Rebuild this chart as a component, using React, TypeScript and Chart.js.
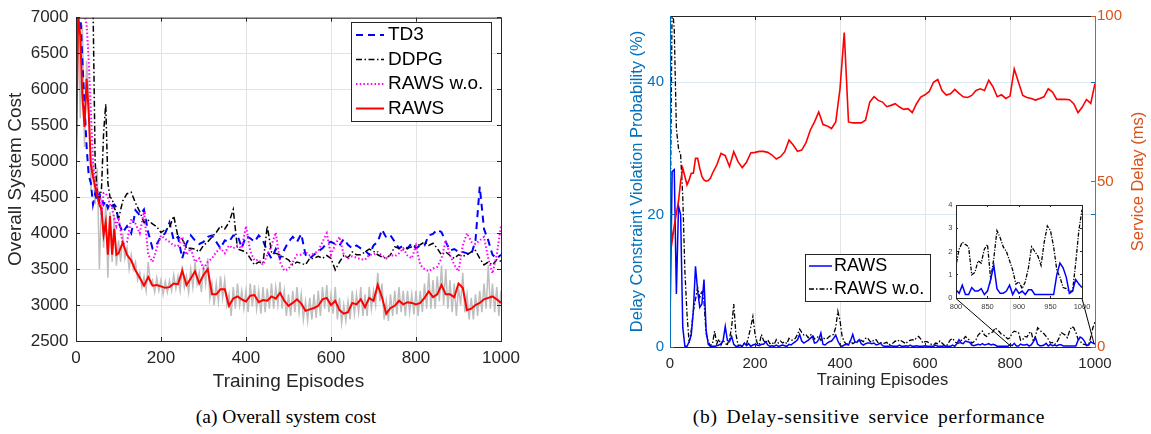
import React, { useEffect, useRef } from "react";
import { Chart, registerables } from "chart.js";

Chart.register(...registerables);

// ---------------- Data ----------------
// x grids (episodes). Mixed grid: every 5 episodes up to 100, then every 10.
const EPISODES_MIXED = [
  ...Array.from({ length: 21 }, (_, i) => i * 5),
  ...Array.from({ length: 90 }, (_, i) => 110 + i * 10),
];
const EPISODES_STEP5 = Array.from({ length: 201 }, (_, i) => i * 5);

const EPISODE_TICKS = [0, 200, 400, 600, 800, 1000];
const COST_TICKS = [2500, 3000, 3500, 4000, 4500, 5000, 5500, 6000, 6500, 7000];
const VIOL_TICKS = [0, 20, 40];
const DELAY_TICKS = [0, 50, 100];
const INSET_X_TICKS = [800, 850, 900, 950, 1000];
const INSET_Y_TICKS = [0, 1, 2, 3, 4];

const LEFT_LEGEND_LABELS = ["TD3", "DDPG", "RAWS w.o.", "RAWS"];
const RIGHT_LEGEND_LABELS = ["RAWS", "RAWS w.o."];

// (a) Overall system cost, on EPISODES_MIXED
const TD3_COST = [
  7600, 7400, 7100, 6400, 5800, 5200, 4800, 4700, 4400, 4550, 4450, 4550, 4500, 4400, 4450, 4350, 4420, 4380, 4400, 4360, 4150,
  4010, 4100, 4000, 4320, 4250, 4330, 4010, 3790, 3850, 3950,
  4000, 4150, 3900, 3950, 3650, 3860, 3970, 3900, 3850, 3880,
  3950, 3970, 3880, 3790, 3900, 3880, 3970, 3970, 3800, 3960,
  3930, 3880, 3970, 3900, 3750, 3650, 3780, 3650, 3770, 3880,
  3950, 3880, 3990, 3700, 3650, 3700, 3750, 3790, 3860, 3880,
  3850, 3830, 3920, 3840, 3790, 3830, 3790, 3760, 3700, 3830,
  3880, 4050, 3940, 3970, 3880, 3790, 3830, 3790, 3860, 3790,
  3830, 3830, 3970, 3990, 4050, 4015, 3880, 3760, 3780, 3740,
  3740, 3720, 3700, 3900, 4650, 4060, 3900, 3700, 3650, 3700,
];
const DDPG_COST = [
  7600, 7600, 7600, 7600, 7600, 7600, 7500, 7300, 7200, 5000, 4550, 4450, 4620, 5400, 5800, 4700, 4500, 4480, 4350, 4300, 4200,
  4450, 4550, 4570, 4420, 4300, 4150, 4180, 4130, 4090, 4010,
  4050, 4080, 4240, 3950, 3920, 3790, 3790, 3780, 3740, 3830,
  3880, 3950, 4010, 4100, 4060, 4150, 4330, 3780, 3760, 3740,
  3650, 3560, 3600, 3580, 4100, 3740, 3720, 3700, 3660, 3630,
  3560, 3600, 3580, 3560, 3650, 3650, 3680, 3650, 3690, 3650,
  3490, 3600, 3690, 3660, 3740, 3700, 3700, 3740, 3780, 3750,
  3700, 3670, 3650, 3700, 3810, 3790, 3770, 3790, 3810, 3830,
  3840, 3880, 3830, 3860, 3790, 3700, 3740, 3690, 3650, 3700,
  3680, 3700, 3740, 3760, 3650, 3560, 3600, 3560, 3630, 3610,
];
const RAWS_WO_COST = [
  7600, 7500, 7400, 7200, 7050, 6900, 6400, 5700, 5000, 4700, 4600, 4500, 4260, 4560, 4550, 4500, 4400, 4350, 4200, 4100, 4220,
  3850, 3880, 4200, 4130, 4000, 4300, 3700, 3600, 3790, 3970,
  3920, 3880, 3830, 3820, 3950, 3700, 3790, 3600, 3650, 3510,
  3600, 3650, 3740, 3790, 3720, 3830, 3790, 3830, 3790, 4100,
  3750, 3620, 3630, 3560, 3700, 3830, 4010, 3600, 3480, 3500,
  3600, 3700, 3700, 3740, 3690, 3720, 3750, 3880, 4000, 3700,
  3840, 3950, 3700, 3650, 3680, 3660, 3640, 3630, 3700, 3700,
  3740, 3690, 3650, 3700, 3680, 3720, 3790, 3690, 3650, 3830,
  3560, 3500, 3470, 3510, 3530, 3650, 3900, 3700, 3560, 3470,
  3830, 4000, 3880, 3850, 3900, 3950, 3650, 3440, 3700, 4100,
];
const RAWS_COST = [
  4930, 7050, 6750, 5900, 5480, 6150, 5660, 4950, 4790, 4650, 4520, 4400, 4330, 3980, 4150, 3700, 4240, 3700, 4060, 3700, 3720,
  3870, 3700, 3620, 3480, 3380, 3270, 3390, 3270, 3280, 3260,
  3240, 3250, 3300, 3290, 3480, 3280, 3370, 3470, 3300, 3420,
  3500, 3150, 3150, 3220, 3220, 2990, 3090, 3120, 3080, 3050,
  3130, 3140, 3040, 3070, 3060, 3120, 3090, 3170, 3060, 2990,
  3030, 3080, 3020, 2920, 2940, 2960, 2990, 3080, 3100, 3000,
  3060, 2930, 2880, 2900, 3030, 3010, 3080, 2970, 3100, 3060,
  3280, 3110, 2880, 2960, 2990, 3060, 3010, 3040, 3030, 3010,
  3030, 3100, 3190, 3110, 3150, 3280, 3150, 3150, 3110, 3300,
  3240, 2930, 2950, 3000, 3030, 3080, 3100, 3120, 3080, 3030,
];
// raw (unsmoothed) RAWS cost, on EPISODES_STEP5
const RAWS_COST_RAW = [
  5000, 7200, 5600, 6900, 5200, 6400, 5900, 4600, 5000, 4400,
  4900, 3500, 4500, 3800, 4400, 3380, 4300, 3600, 4250, 3550,
  3900, 3600, 4000, 3650, 3800, 3500, 3700, 3500, 3600, 3350,
  3450, 3250, 3400, 3200, 3600, 3300, 3350, 3180, 3380, 3200,
  3350, 3150, 3330, 3180, 3340, 3200, 3420, 3230, 3400, 3200,
  3550, 3250, 3400, 3180, 3500, 3250, 3600, 3300, 3450, 3180,
  3550, 3300, 3650, 3100, 3300, 3000, 3300, 3050, 3400, 3100,
  3350, 3000, 3150, 2850, 3250, 2950, 3300, 3000, 3200, 2950,
  3200, 2900, 3300, 2980, 3280, 2950, 3200, 2880, 3250, 2900,
  3230, 2950, 3300, 2950, 3250, 3000, 3320, 2950, 3200, 2850,
  3150, 2850, 3200, 2900, 3250, 2900, 3150, 2800, 3050, 2780,
  3100, 2800, 3150, 2820, 3200, 2850, 3250, 2950, 3280, 2900,
  3150, 2880, 3250, 2800, 3100, 2750, 3000, 2780, 3050, 2800,
  3200, 2880, 3150, 2900, 3250, 2850, 3150, 2850, 3250, 2950,
  3200, 3000, 3450, 3050, 3300, 2800, 3050, 2780, 3150, 2850,
  3200, 2870, 3250, 2900, 3200, 2850, 3200, 2900, 3150, 2870,
  3200, 2850, 3200, 2900, 3300, 2950, 3450, 2950, 3350, 2950,
  3400, 3050, 3550, 3000, 3500, 2950, 3350, 2900, 3300, 2850,
  3250, 3000, 3450, 2900, 3150, 2800, 3100, 2800, 3150, 2850,
  3200, 2900, 3300, 2950, 3550, 2950, 3300, 2900, 3250, 2850,
  3200,
];

// (b) service delay (ms), on EPISODES_MIXED
const SERVICE_DELAY = [
  41.5, 32, 36.5, 40.5, 44, 50, 54, 51.5, 49, 50.5, 52.5, 52.5, 57, 57, 54, 51.5, 50.5, 50.1, 50.3, 51, 52.5,
  55, 58.5, 57.8, 54.5, 59, 56, 54.2, 55.8, 58.6, 58.8,
  59.1, 59.1, 58.8, 58, 56.8, 57.5, 59, 62.5, 61, 59.1,
  59.5, 61.7, 65.5, 68, 71, 67.2, 66.8, 66, 68, 78,
  95, 68, 67.7, 67.7, 67.7, 68.5, 74, 75.6, 74.5, 74,
  72.6, 73, 73.5, 72.5, 71.8, 72, 70.8, 73.5, 75.5, 76.2,
  77.2, 80, 80.8, 77.5, 76.1, 76.5, 77.8, 76.6, 75.6, 75.4,
  76, 77.5, 78, 77.5, 80.6, 78.6, 75.6, 76.2, 75.1, 75.8,
  84, 80, 76, 75.4, 75.1, 74.6, 75.1, 75.6, 78, 77,
  74.8, 74.8, 74.8, 74.7, 73.5, 70.8, 72.5, 74.8, 73.6, 79.6,
];
// (b) delay constraint violation probability (%), on EPISODES_STEP5
const RAWS_VIOLATION = [
  3.0, 26.5, 26.8, 8, 21.3, 20, 3, 0.1, 0.1, 0.8,
  1.8, 5.5, 12.2, 8.5, 6.0, 6.5, 10.2, 2.5, 0.4, 0.1,
  0.1, 0.1, 0.2, 0.3, 0.5, 1.0, 3.1, 1.0, 0.8, 1.6,
  0.4, 0.1, 0.1, 0.3, 0.1, 0.6, 0.2, 0.5, 0.1, 0.3,
  0.4, 0.3, 0.2, 0.4, 0.4, 0.8, 0.3, 0.1, 0.2, 0.1,
  0.3, 0.1, 0.2, 0.3, 0.2, 0.1, 0.4, 0.3, 0.6, 0.8,
  1.1, 1.9, 0.9, 0.6, 0.8, 1.0, 1.3, 1.6, 0.6, 0.7,
  1.1, 2.1, 0.4, 0.3, 0.6, 0.8, 0.9, 1.3, 1.8, 0.9,
  0.3, 0.1, 0.3, 0.4, 0.3, 1.0, 1.9, 0.8, 0.7, 1.1,
  0.5, 0.3, 0.5, 0.6, 0.6, 0.5, 0.6, 0.3, 0.4, 0.6,
  0.2, 0.1, 0.1, 0.1, 0.2, 0.1, 0.1, 0.1, 0.3, 0.1,
  0.1, 0.2, 0.1, 0.3, 0.1, 0.1, 0.2, 0.1, 0.1, 0.1,
  0.2, 0.1, 0.1, 0.1, 0.1, 0.3, 0.1, 0.1, 0.1, 0.2,
  0.1, 0.1, 0.1, 0.3, 0.1, 0.5, 1.1, 0.6, 0.5, 0.9,
  0.8, 0.7, 0.3, 0.2, 0.3, 0.4, 0.3, 0.5, 0.3, 0.4,
  0.5, 0.3, 0.4, 0.3, 0.1, 0.1, 0.1, 0.1, 0.1, 0.1,
  0.35, 0.2, 0.55, 0.15, 0.15, 0.45, 0.3, 0.3, 0.4, 0.15,
  0.3, 0.8, 1.4, 0.4, 0.2, 0.2, 0.3, 0.55, 0.15, 0.4,
  0.2, 0.3, 0.15, 0.35, 0.35, 0.15, 0.15, 0.15, 0.15, 0.15,
  0.15, 0.15, 1.0, 1.5, 1.3, 0.9, 0.2, 0.3, 0.8, 0.6,
  0.45,
];
const RAWS_WO_VIOLATION = [
  14.7, 52, 48, 33, 30, 29, 22.8, 11.5, 5, 0.6,
  2.5, 5.5, 7.2, 9.0, 7.5, 8.5, 6.8, 2.0, 0.8, 0.2,
  0.5, 2.4, 0.5, 1.2, 0.3, 1.0, 0.5, 0.4, 1.2, 3.0,
  6.5, 2.0, 0.3, 0.2, 0.1, 0.6, 0.4, 1.6, 3.0, 4.6,
  2.0, 0.6, 0.3, 1.9, 1.0, 0.6, 1.1, 0.5, 0.7, 0.4,
  1.1, 0.6, 0.9, 0.6, 0.8, 0.5, 1.3, 1.0, 1.1, 1.3,
  1.9, 2.7, 2.2, 1.8, 1.9, 1.4, 1.8, 1.9, 1.2, 1.4,
  1.6, 1.0, 1.4, 1.2, 1.3, 1.6, 1.8, 1.9, 3.0, 5.4,
  4.0, 1.6, 0.8, 0.4, 0.6, 0.9, 0.5, 0.7, 0.8, 1.1,
  1.0, 0.8, 1.3, 1.4, 0.9, 0.7, 1.1, 1.1, 0.6, 0.7,
  0.5, 0.6, 0.7, 0.3, 0.5, 0.6, 0.9, 0.8, 1.1, 0.9,
  0.7, 0.5, 0.9, 1.0, 1.1, 1.0, 1.4, 1.6, 1.2, 0.6,
  0.8, 0.8, 0.6, 0.4, 0.3, 0.6, 0.5, 0.9, 0.6, 0.3,
  0.1, 0.6, 1.1, 1.3, 0.8, 0.6, 0.6, 1.0, 1.1, 1.6,
  1.3, 1.0, 0.6, 0.8, 1.1, 1.8, 2.1, 2.4, 1.8, 1.6,
  2.0, 2.1, 2.3, 2.9, 2.6, 2.3, 1.9, 1.8, 1.5, 1.2,
  1.4, 2.1, 2.4, 2.3, 2.2, 1.0, 1.1, 1.6, 1.5, 2.1,
  2.3, 0.8, 1.7, 2.9, 2.6, 2.2, 2.0, 1.6, 1.2, 0.6,
  0.7, 0.4, 0.7, 1.3, 2.2, 2.0, 1.8, 1.4, 2.4, 3.1,
  2.9, 2.2, 1.2, 0.9, 0.45, 0.4, 0.3, 0.3, 1.5, 2.9,
  3.8,
];

// ---------------- Styling ----------------
const SANS = "'Liberation Sans', Arial, Helvetica, sans-serif";
const SERIF = "'Liberation Serif', 'Times New Roman', serif";
const AXIS_DARK = "#262626";
const GRID_GRAY = "#e3e3e3";
const GRID_BLUE = "#d9e8f3";
const LEFT_AXIS_BLUE = "#0072BD";
const RIGHT_AXIS_ORANGE = "#D95319";
const TICK_LEN = 4;

type Pt = { x: number; y: number };
const pts = (xs: number[], ys: number[]): Pt[] => ys.map((y, i) => ({ x: xs[i], y }));
const fixedTicks = (values: number[]) => (scale: any) => {
  scale.ticks = values.map((v) => ({ value: v }));
};
const plainLabel = (v: any) => String(v);

type LegendRow = { label: string; color: string; dash: number[]; width: number; y: number };
function drawLegend(
  ctx: CanvasRenderingContext2D,
  box: { x0: number; y0: number; x1: number; y1: number },
  rows: LegendRow[],
  sx0: number,
  sx1: number,
  tx: number,
  fontPx: number
) {
  ctx.save();
  ctx.fillStyle = "#ffffff";
  ctx.fillRect(box.x0, box.y0, box.x1 - box.x0, box.y1 - box.y0);
  ctx.setLineDash([]);
  ctx.strokeStyle = AXIS_DARK;
  ctx.lineWidth = 1;
  ctx.strokeRect(box.x0 + 0.5, box.y0 + 0.5, box.x1 - box.x0, box.y1 - box.y0);
  ctx.font = `${fontPx}px ${SANS}`;
  ctx.textBaseline = "middle";
  ctx.textAlign = "left";
  for (const r of rows) {
    ctx.strokeStyle = r.color;
    ctx.lineWidth = r.width;
    ctx.setLineDash(r.dash);
    ctx.beginPath();
    ctx.moveTo(sx0, r.y);
    ctx.lineTo(sx1, r.y);
    ctx.stroke();
    ctx.fillStyle = "#000000";
    ctx.fillText(r.label, tx, r.y);
  }
  ctx.restore();
}

const lineDs = (label: string, data: Pt[], color: string, width: number, dash: number[], extra: any = {}) => ({
  label,
  data,
  borderColor: color,
  backgroundColor: color,
  borderWidth: width,
  borderDash: dash,
  pointRadius: 0,
  pointHoverRadius: 0,
  tension: 0,
  fill: false,
  clip: 0,
  ...extra,
});

// ---------------- Left chart: overall system cost ----------------
function CostChart() {
  const ref = useRef<HTMLCanvasElement>(null);
  useEffect(() => {
    const canvas = ref.current;
    if (!canvas) return;
    const frame = {
      id: "costFrame",
      afterDatasetsDraw(chart: any) {
        const { ctx, chartArea: a, scales } = chart;
        ctx.save();
        ctx.setLineDash([]);
        ctx.strokeStyle = AXIS_DARK;
        ctx.lineWidth = 1;
        ctx.beginPath();
        for (const v of EPISODE_TICKS) {
          const x = Math.round(scales.x.getPixelForValue(v) - 0.5) + 0.5;
          ctx.moveTo(x, a.bottom);
          ctx.lineTo(x, a.bottom - TICK_LEN);
          ctx.moveTo(x, a.top);
          ctx.lineTo(x, a.top + TICK_LEN);
        }
        for (const v of COST_TICKS) {
          const y = Math.round(scales.y.getPixelForValue(v) - 0.5) + 0.5;
          ctx.moveTo(a.left, y);
          ctx.lineTo(a.left + TICK_LEN, y);
          ctx.moveTo(a.right, y);
          ctx.lineTo(a.right - TICK_LEN, y);
        }
        ctx.stroke();
        ctx.strokeRect(a.left + 0.5, a.top + 0.5, a.right - a.left, a.bottom - a.top);
        ctx.restore();
      },
      afterDraw(chart: any) {
        const ys = [35, 59.5, 84, 108.5];
        const styles = [
          { color: "#0000ff", dash: [7, 5], width: 2 },
          { color: "#000000", dash: [6, 2.5, 1.5, 2.5], width: 1.5 },
          { color: "#ff00ff", dash: [1.5, 2.2], width: 2 },
          { color: "#ff0000", dash: [], width: 2 },
        ];
        drawLegend(
          chart.ctx,
          { x0: 351, y0: 22, x1: 491, y1: 121 },
          LEFT_LEGEND_LABELS.map((label, i) => ({ label, y: ys[i], ...styles[i] })),
          356,
          384,
          388,
          19
        );
      },
    };
    const chart = new Chart(canvas, {
      type: "line",
      data: {
        datasets: [
          lineDs("RAWS", pts(EPISODES_MIXED, RAWS_COST), "#ff0000", 2, []),
          lineDs("RAWS w.o.", pts(EPISODES_MIXED, RAWS_WO_COST), "#ff00ff", 2, [1.5, 2.2]),
          lineDs("DDPG", pts(EPISODES_MIXED, DDPG_COST), "#000000", 1.5, [6, 2.5, 1.5, 2.5]),
          lineDs("TD3", pts(EPISODES_MIXED, TD3_COST), "#0000ff", 2, [7, 5]),
          lineDs("RAWS (raw)", pts(EPISODES_STEP5, RAWS_COST_RAW), "#bebebe", 1.5, []),
        ],
      },
      options: {
        responsive: false,
        animation: false,
        devicePixelRatio: 1,
        events: [],
        layout: { padding: { left: 0, top: 12, right: 39, bottom: 0 } },
        plugins: { legend: { display: false }, tooltip: { enabled: false } },
        scales: {
          x: {
            type: "linear",
            min: 0,
            max: 1000,
            afterBuildTicks: fixedTicks(EPISODE_TICKS),
            afterFit: (s: any) => {
              s.height = 54;
            },
            grid: { color: GRID_GRAY, lineWidth: 1, drawTicks: false },
            border: { display: false },
            ticks: {
              color: AXIS_DARK,
              font: { family: SANS, size: 17 },
              padding: 7,
              maxRotation: 0,
              autoSkip: false,
              callback: plainLabel,
            },
            title: {
              display: true,
              text: "Training Episodes",
              color: AXIS_DARK,
              font: { family: SANS, size: 19 },
              padding: { top: 0, bottom: 2.2 },
            },
          },
          y: {
            type: "linear",
            min: 2500,
            max: 7000,
            afterBuildTicks: fixedTicks(COST_TICKS),
            afterFit: (s: any) => {
              s.width = 76;
            },
            grid: { color: GRID_GRAY, lineWidth: 1, drawTicks: false },
            border: { display: false },
            ticks: {
              color: AXIS_DARK,
              font: { family: SANS, size: 17 },
              padding: 7.5,
              autoSkip: false,
              callback: plainLabel,
            },
            title: {
              display: true,
              text: "Overall System Cost",
              color: AXIS_DARK,
              font: { family: SANS, size: 19 },
              padding: { top: 4.2, bottom: 0 },
            },
          },
        },
      },
      plugins: [frame],
    } as any);
    return () => chart.destroy();
  }, []);
  return (
    <canvas
      ref={ref}
      width={540}
      height={395}
      style={{ position: "absolute", left: 0, top: 0, width: 540, height: 395 }}
    />
  );
}

// ---------------- Right chart: delay-sensitive service performance ----------------
const RIGHT_LEFT = 620;

function DelayChart() {
  const ref = useRef<HTMLCanvasElement>(null);
  useEffect(() => {
    const canvas = ref.current;
    if (!canvas) return;
    const frame = {
      id: "delayFrame",
      afterDatasetsDraw(chart: any) {
        const { ctx, chartArea: a, scales } = chart;
        ctx.save();
        ctx.setLineDash([]);
        ctx.lineWidth = 1;
        // top & bottom + x ticks
        ctx.strokeStyle = AXIS_DARK;
        ctx.beginPath();
        ctx.moveTo(a.left, a.top + 0.5);
        ctx.lineTo(a.right + 1, a.top + 0.5);
        ctx.moveTo(a.left, a.bottom + 0.5);
        ctx.lineTo(a.right + 1, a.bottom + 0.5);
        for (const v of EPISODE_TICKS) {
          const x = Math.round(scales.x.getPixelForValue(v) - 0.5) + 0.5;
          ctx.moveTo(x, a.bottom);
          ctx.lineTo(x, a.bottom - TICK_LEN);
          ctx.moveTo(x, a.top);
          ctx.lineTo(x, a.top + TICK_LEN);
        }
        ctx.stroke();
        // left (blue) axis
        ctx.strokeStyle = LEFT_AXIS_BLUE;
        ctx.beginPath();
        ctx.moveTo(a.left + 0.5, a.top);
        ctx.lineTo(a.left + 0.5, a.bottom + 1);
        for (const v of VIOL_TICKS) {
          const y = Math.round(scales.y.getPixelForValue(v) - 0.5) + 0.5;
          ctx.moveTo(a.left, y);
          ctx.lineTo(a.left + TICK_LEN, y);
          ctx.moveTo(a.right, y);
          ctx.lineTo(a.right - TICK_LEN, y);
        }
        ctx.stroke();
        // right (orange) axis
        ctx.strokeStyle = RIGHT_AXIS_ORANGE;
        ctx.beginPath();
        ctx.moveTo(a.right + 0.5, a.top);
        ctx.lineTo(a.right + 0.5, a.bottom + 1);
        for (const v of DELAY_TICKS) {
          const y = Math.round(scales.y2.getPixelForValue(v) - 0.5) + 0.5;
          ctx.moveTo(a.right, y);
          ctx.lineTo(a.right - TICK_LEN, y);
        }
        ctx.stroke();
        // zoom connector lines towards the inset
        ctx.strokeStyle = "#000000";
        ctx.beginPath();
        ctx.moveTo(956 - RIGHT_LEFT, 298.5);
        ctx.lineTo(scales.x.getPixelForValue(800), a.bottom - 1.5);
        ctx.moveTo(1082 - RIGHT_LEFT, 298.5);
        ctx.lineTo(scales.x.getPixelForValue(1000) - 1, a.bottom - 3.5);
        ctx.stroke();
        ctx.restore();
      },
      afterDraw(chart: any) {
        const { ctx, chartArea: a } = chart;
        // right axis title, reading bottom-to-top
        ctx.save();
        ctx.translate(1138.5 - RIGHT_LEFT, (a.top + a.bottom) / 2);
        ctx.rotate(-Math.PI / 2);
        ctx.font = `16.5px ${SANS}`;
        ctx.fillStyle = RIGHT_AXIS_ORANGE;
        ctx.textAlign = "center";
        ctx.textBaseline = "middle";
        ctx.fillText("Service Delay (ms)", 0, 0);
        ctx.restore();
        const ys = [266, 289];
        const styles = [
          { color: "#0000ff", dash: [], width: 1.5 },
          { color: "#000000", dash: [5, 2, 1.5, 2], width: 1.3 },
        ];
        drawLegend(
          ctx,
          { x0: 805 - RIGHT_LEFT, y0: 254, x1: 930 - RIGHT_LEFT, y1: 301 },
          RIGHT_LEGEND_LABELS.map((label, i) => ({ label, y: ys[i], ...styles[i] })),
          809 - RIGHT_LEFT,
          832 - RIGHT_LEFT,
          834 - RIGHT_LEFT,
          18
        );
      },
    };
    const chart = new Chart(canvas, {
      type: "line",
      data: {
        datasets: [
          lineDs("Service delay", pts(EPISODES_MIXED, SERVICE_DELAY), "#ff0000", 1.6, [], { yAxisID: "y2" }),
          lineDs("RAWS", pts(EPISODES_STEP5, RAWS_VIOLATION), "#0000ff", 1.5, [], { yAxisID: "y" }),
          lineDs("RAWS w.o.", pts(EPISODES_STEP5, RAWS_WO_VIOLATION), "#000000", 1.3, [5, 2, 1.5, 2], { yAxisID: "y" }),
        ],
      },
      options: {
        responsive: false,
        animation: false,
        devicePixelRatio: 1,
        events: [],
        layout: { padding: { left: 0, top: 16, right: 0, bottom: 0 } },
        plugins: { legend: { display: false }, tooltip: { enabled: false } },
        scales: {
          x: {
            type: "linear",
            min: 0,
            max: 1000,
            afterBuildTicks: fixedTicks(EPISODE_TICKS),
            afterFit: (s: any) => {
              s.height = 48;
            },
            grid: { color: GRID_GRAY, lineWidth: 1, drawTicks: false },
            border: { display: false },
            ticks: {
              color: AXIS_DARK,
              font: { family: SANS, size: 15 },
              padding: 8,
              maxRotation: 0,
              autoSkip: false,
              callback: plainLabel,
            },
            title: {
              display: true,
              text: "Training Episodes",
              color: AXIS_DARK,
              font: { family: SANS, size: 16.5 },
              padding: { top: 0, bottom: 4.5 },
            },
          },
          y: {
            type: "linear",
            position: "left",
            min: 0,
            max: 50,
            afterBuildTicks: fixedTicks(VIOL_TICKS),
            afterFit: (s: any) => {
              s.width = 50;
            },
            grid: { color: GRID_BLUE, lineWidth: 1, drawTicks: false },
            border: { display: false },
            ticks: {
              color: LEFT_AXIS_BLUE,
              font: { family: SANS, size: 15 },
              padding: 6,
              autoSkip: false,
              callback: plainLabel,
            },
            title: {
              display: true,
              text: "Delay Constraint Violation Probability (%)",
              color: LEFT_AXIS_BLUE,
              font: { family: SANS, size: 16.5 },
              padding: { top: 7.5, bottom: 0 },
            },
          },
          y2: {
            type: "linear",
            position: "right",
            min: 0,
            max: 100,
            afterBuildTicks: fixedTicks(DELAY_TICKS),
            afterFit: (s: any) => {
              s.width = 56;
            },
            grid: { display: false, drawTicks: false },
            border: { display: false },
            ticks: {
              color: RIGHT_AXIS_ORANGE,
              font: { family: SANS, size: 15 },
              padding: 2,
              autoSkip: false,
              callback: plainLabel,
            },
          },
        },
      },
      plugins: [frame],
    } as any);
    return () => chart.destroy();
  }, []);
  return (
    <canvas
      ref={ref}
      width={531}
      height={395}
      style={{ position: "absolute", left: RIGHT_LEFT, top: 0, width: 531, height: 395 }}
    />
  );
}

// ---------------- Inset (episodes 800-1000) ----------------
function InsetChart() {
  const ref = useRef<HTMLCanvasElement>(null);
  useEffect(() => {
    const canvas = ref.current;
    if (!canvas) return;
    const frame = {
      id: "insetFrame",
      beforeDraw(chart: any) {
        const { ctx, chartArea: a } = chart;
        ctx.save();
        ctx.fillStyle = "#ffffff";
        ctx.fillRect(a.left, a.top, a.right - a.left, a.bottom - a.top);
        ctx.restore();
      },
      afterDatasetsDraw(chart: any) {
        const { ctx, chartArea: a, scales } = chart;
        ctx.save();
        ctx.setLineDash([]);
        ctx.strokeStyle = AXIS_DARK;
        ctx.lineWidth = 1;
        ctx.beginPath();
        for (const v of INSET_X_TICKS) {
          const x = Math.round(scales.x.getPixelForValue(v) - 0.5) + 0.5;
          ctx.moveTo(x, a.bottom);
          ctx.lineTo(x, a.bottom - 2);
          ctx.moveTo(x, a.top);
          ctx.lineTo(x, a.top + 2);
        }
        for (const v of INSET_Y_TICKS) {
          const y = Math.round(scales.y.getPixelForValue(v) - 0.5) + 0.5;
          ctx.moveTo(a.left, y);
          ctx.lineTo(a.left + 2, y);
          ctx.moveTo(a.right, y);
          ctx.lineTo(a.right - 2, y);
        }
        ctx.stroke();
        ctx.strokeRect(a.left + 0.5, a.top + 0.5, a.right - a.left, a.bottom - a.top);
        ctx.restore();
      },
    };
    const chart = new Chart(canvas, {
      type: "line",
      data: {
        datasets: [
          lineDs("RAWS", pts(EPISODES_STEP5, RAWS_VIOLATION), "#0000ff", 1.5, []),
          lineDs("RAWS w.o.", pts(EPISODES_STEP5, RAWS_WO_VIOLATION), "#000000", 1.3, [4, 1.5, 1.2, 1.5]),
        ],
      },
      options: {
        responsive: false,
        animation: false,
        devicePixelRatio: 1,
        events: [],
        layout: { padding: { left: 0, top: 10, right: 13, bottom: 0 } },
        plugins: { legend: { display: false }, tooltip: { enabled: false } },
        scales: {
          x: {
            type: "linear",
            min: 800,
            max: 1000,
            afterBuildTicks: fixedTicks(INSET_X_TICKS),
            afterFit: (s: any) => {
              s.height = 22;
            },
            grid: { display: false, drawTicks: false },
            border: { display: false },
            ticks: {
              color: "#404040",
              font: { family: SANS, size: 7.5 },
              padding: 4.5,
              maxRotation: 0,
              autoSkip: false,
              callback: plainLabel,
            },
          },
          y: {
            type: "linear",
            min: 0,
            max: 4,
            afterBuildTicks: fixedTicks(INSET_Y_TICKS),
            afterFit: (s: any) => {
              s.width = 26;
            },
            grid: { display: false, drawTicks: false },
            border: { display: false },
            ticks: {
              color: "#404040",
              font: { family: SANS, size: 7.5 },
              padding: 3.5,
              autoSkip: false,
              callback: plainLabel,
            },
          },
        },
      },
      plugins: [frame],
    } as any);
    return () => chart.destroy();
  }, []);
  return (
    <canvas
      ref={ref}
      width={165}
      height={125}
      style={{ position: "absolute", left: 930, top: 195, width: 165, height: 125 }}
    />
  );
}

const captionStyle = (centerX: number, extra: React.CSSProperties = {}): React.CSSProperties => ({
  position: "absolute",
  left: centerX - 250,
  width: 500,
  top: 407,
  textAlign: "center",
  fontFamily: SERIF,
  fontSize: 19.5,
  lineHeight: "19px",
  color: "#000",
  whiteSpace: "nowrap",
  ...extra,
});

export default function App() {
  return (
    <div
      style={{
        position: "absolute",
        left: 0,
        top: 0,
        width: 1151,
        height: 434,
        background: "#ffffff",
        overflow: "hidden",
      }}
    >
      <CostChart />
      <DelayChart />
      <InsetChart />
      <div style={captionStyle(286)}>(a) Overall system cost</div>
      <div style={captionStyle(869, { wordSpacing: "3px", letterSpacing: "0.8px" })}>
        (b) Delay-sensitive service performance
      </div>
    </div>
  );
}
